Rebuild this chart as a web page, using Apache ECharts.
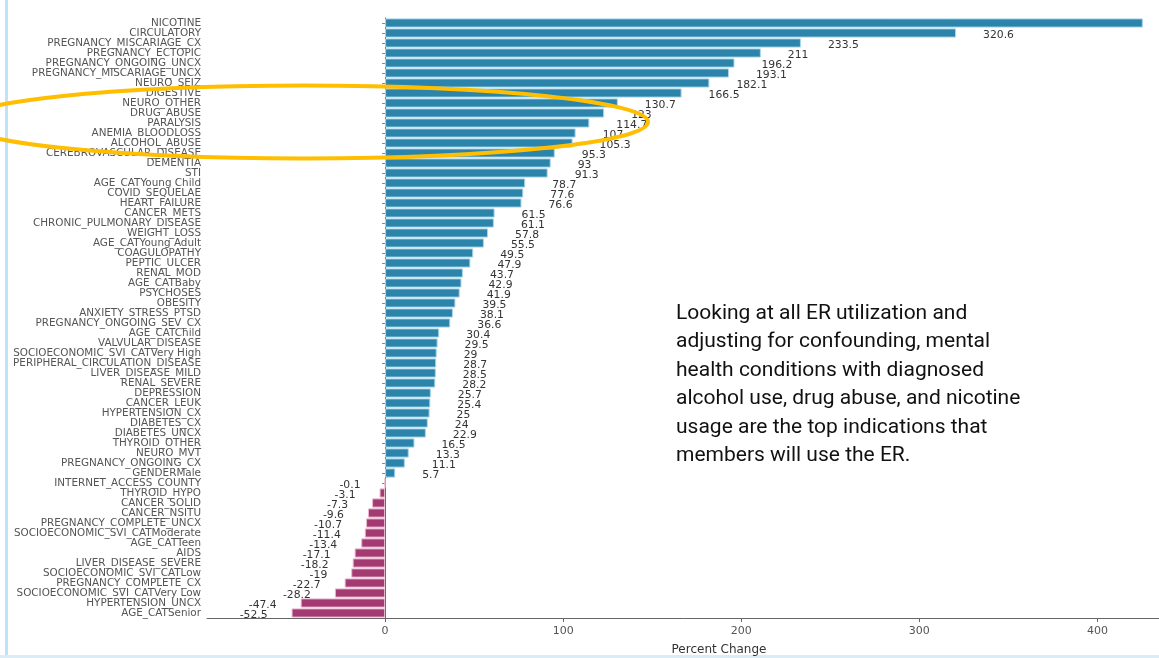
<!DOCTYPE html>
<html>
<head>
<meta charset="utf-8">
<script src="https://cdn.jsdelivr.net/npm/echarts@6/dist/echarts.min.js"></script>
<style>
  html, body { margin: 0; padding: 0; background: #fff; }
  #chart { width: 1159px; height: 658px; }
</style>
</head>
<body>
<div id="chart"></div>
<script>
  // categories top to bottom
  var categories = [
    'NICOTINE', 'CIRCULATORY', 'PREGNANCY_MISCARIAGE_CX', 'PREGNANCY_ECTOPIC',
    'PREGNANCY_ONGOING_UNCX', 'PREGNANCY_MISCARIAGE_UNCX', 'NEURO_SEIZ', 'DIGESTIVE',
    'NEURO_OTHER', 'DRUG_ABUSE', 'PARALYSIS', 'ANEMIA_BLOODLOSS', 'ALCOHOL_ABUSE',
    'CEREBROVASCULAR_DISEASE', 'DEMENTIA', 'STI', 'AGE_CATYoung Child', 'COVID_SEQUELAE',
    'HEART_FAILURE', 'CANCER_METS', 'CHRONIC_PULMONARY_DISEASE', 'WEIGHT_LOSS',
    'AGE_CATYoung Adult', 'COAGULOPATHY', 'PEPTIC_ULCER', 'RENAL_MOD', 'AGE_CATBaby',
    'PSYCHOSES', 'OBESITY', 'ANXIETY_STRESS_PTSD', 'PREGNANCY_ONGOING_SEV_CX',
    'AGE_CATChild', 'VALVULAR_DISEASE', 'SOCIOECONOMIC_SVI_CATVery High',
    'PERIPHERAL_CIRCULATION_DISEASE', 'LIVER_DISEASE_MILD', 'RENAL_SEVERE', 'DEPRESSION',
    'CANCER_LEUK', 'HYPERTENSION_CX', 'DIABETES_CX', 'DIABETES_UNCX', 'THYROID_OTHER',
    'NEURO_MVT', 'PREGNANCY_ONGOING_CX', 'GENDERMale', 'INTERNET_ACCESS_COUNTY',
    'THYROID_HYPO', 'CANCER_SOLID', 'CANCER_NSITU', 'PREGNANCY_COMPLETE_UNCX',
    'SOCIOECONOMIC_SVI_CATModerate', 'AGE_CATTeen', 'AIDS', 'LIVER_DISEASE_SEVERE',
    'SOCIOECONOMIC_SVI_CATLow', 'PREGNANCY_COMPLETE_CX', 'SOCIOECONOMIC_SVI_CATVery Low',
    'HYPERTENSION_UNCX', 'AGE_CATSenior'
  ]
  var pctChange = [
    425.5, 320.6, 233.5, 211, 196.2, 193.1, 182.1, 166.5, 130.7, 123, 114.7, 107, 105.3,
    95.3, 93, 91.3, 78.7, 77.6, 76.6, 61.5, 61.1, 57.8, 55.5, 49.5, 47.9, 43.7, 42.9,
    41.9, 39.5, 38.1, 36.6, 30.4, 29.5, 29, 28.7, 28.5, 28.2, 25.7, 25.4, 25, 24, 22.9,
    16.5, 13.3, 11.1, 5.7, -0.1, -3.1, -7.3, -9.6, -10.7, -11.4, -13.4, -17.1, -18.2,
    -19, -22.7, -28.2, -47.4, -52.5
  ]
  var xTicks = [0, 100, 200, 300, 400]

  var posColor = '#2d84aa'
  var negColor = '#a33a72'

  var barData = []
  for (var i = 0; i < pctChange.length; i++) {
    var v = pctChange[i]
    var neg = v < 0
    barData.push({
      value: v,
      itemStyle: {
        color: neg ? negColor : posColor,
        borderColor: neg ? '#e9b7cf' : '#a8d6ec',
        borderWidth: 1
      },
      label: {
        show: true,
        position: neg ? 'left' : 'right',
        distance: neg ? 24 : 27,
        offset: [0, 2]
      }
    })
  }

  var chart = echarts.init(document.getElementById('chart'))
  chart.setOption({
    backgroundColor: '#ffffff',
    animation: false,
    grid: {
      left: 207,
      width: 1024,   // plot runs past the right edge of the picture
      top: 18,
      height: 600,
      outerBoundsMode: 'none'
    },
    xAxis: {
      type: 'value',
      min: -100,
      max: 475,
      interval: 100,
      name: 'Percent Change',
      nameLocation: 'middle',
      nameGap: 26,
      nameTextStyle: { color: '#333', fontSize: 12, fontFamily: 'DejaVu Sans' },
      axisLine: { show: true, lineStyle: { color: '#666', width: 1 } },
      axisTick: { show: true, length: 4, lineStyle: { color: '#666' } },
      splitLine: { show: false },
      axisLabel: {
        color: '#555',
        fontSize: 11,
        fontFamily: 'DejaVu Sans',
        margin: 8,
        showMinLabel: false,
        showMaxLabel: false,
        formatter: function (val) {
          return xTicks.indexOf(val) >= 0 ? String(val) : ''
        }
      }
    },
    yAxis: {
      type: 'category',
      inverse: true,
      data: categories,
      axisLine: { show: true, lineStyle: { color: '#666', width: 1 } },
      axisTick: { show: true, alignWithLabel: true, length: 3, lineStyle: { color: '#888' } },
      axisLabel: {
        color: '#555',
        fontSize: 10.4,
        fontFamily: 'DejaVu Sans',
        margin: 6,
        interval: 0
      }
    },
    series: [{
      type: 'bar',
      data: barData,
      barCategoryGap: '8%',
      label: {
        color: '#333',
        fontSize: 10.8,
        fontFamily: 'DejaVu Sans'
      }
    }],
    graphic: [
      {
        type: 'rect',
        left: 5,
        top: 0,
        shape: { width: 3, height: 658 },
        style: { fill: '#bfe2f6' }
      },
      {
        type: 'rect',
        left: 0,
        top: 655,
        shape: { width: 1159, height: 3 },
        style: { fill: '#dcecf6' }
      },
      {
        type: 'ellipse',
        shape: { cx: 304, cy: 122, rx: 344, ry: 36.5 },
        style: { fill: null, stroke: '#ffbf00', lineWidth: 4 },
        z: 100
      },
      {
        type: 'text',
        left: 676,
        top: 299,
        style: {
          text: 'Looking at all ER utilization and\nadjusting for confounding, mental\nhealth conditions with diagnosed\nalcohol use, drug abuse, and nicotine\nusage are the top indications that\nmembers will use the ER.',
          fill: '#111',
          font: '21px Roboto',
          lineHeight: 28.5
        },
        z: 100
      }
    ]
  })
</script>
</body>
</html>
